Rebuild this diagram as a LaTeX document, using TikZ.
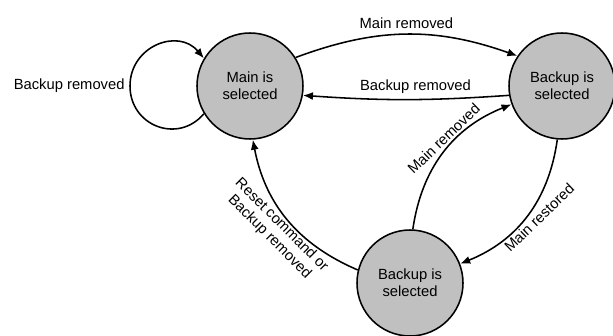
\documentclass[tikz,border=0pt]{standalone}
\usepackage{fontspec}
\setmainfont{Liberation Sans}
\usepackage{tikz}
\usetikzlibrary{arrows,arrows.meta,shapes,positioning}
\definecolor{stategray}{RGB}{192,192,192}
\tikzstyle{state} = [circle, draw=black, line width=1.1pt, fill=stategray, minimum size=2.65cm, align=center, inner sep=0pt]
\tikzstyle{arrow} = [line width=1.1pt,-{Latex[length=2.5mm,width=2mm]}]

\begin{document}
\begin{tikzpicture}[node distance=7.8cm, font=\fontsize{10.5}{12}\selectfont]
    \useasboundingbox (-6.25,2.15) rectangle (9.075,-6.25);
    %Create state nodes
    \node (main)     [state] {Main is\\selected};
    \node (backup_1) [state, right of = main] {Backup is\\selected};
    \node (backup_2) [state, below of = main, xshift=4.0cm, yshift=2.875cm] {Backup is\\selected};
    \coordinate[left of = main, xshift=4.8cm] (loop_left);
    %Connect top states
    \draw [arrow] (main.211) .. controls +(230:1.0) and +(0,-1.0) .. (loop_left) node[left] {Backup removed}
                             .. controls +(0,1.0) and +(130:1.0) .. (main.149);
    \draw [arrow] (main.32)      to[bend left=20] node[above] {Main removed} (backup_1.146);
    \draw [arrow] (backup_1.190) to[bend left=4]  node[above, pos=0.45] {Backup removed} (main.350);
    %Connect bottom state
    \draw [arrow] (backup_2.87)  to[bend left=30] node[above, pos=0.56, rotate=44, inner sep=2pt] {Main removed} (backup_1.200);
    \draw [arrow] (backup_1.265) to[bend left=30] node[below, pos=0.45, rotate=44] {Main restored} (backup_2.21);
    \draw [arrow] (backup_2.166) to[bend left=28] node[below, rotate=-45, inner sep=0.5pt, align=center] {Reset command or\\Backup removed} (main.273);
\end{tikzpicture}
\end{document}
